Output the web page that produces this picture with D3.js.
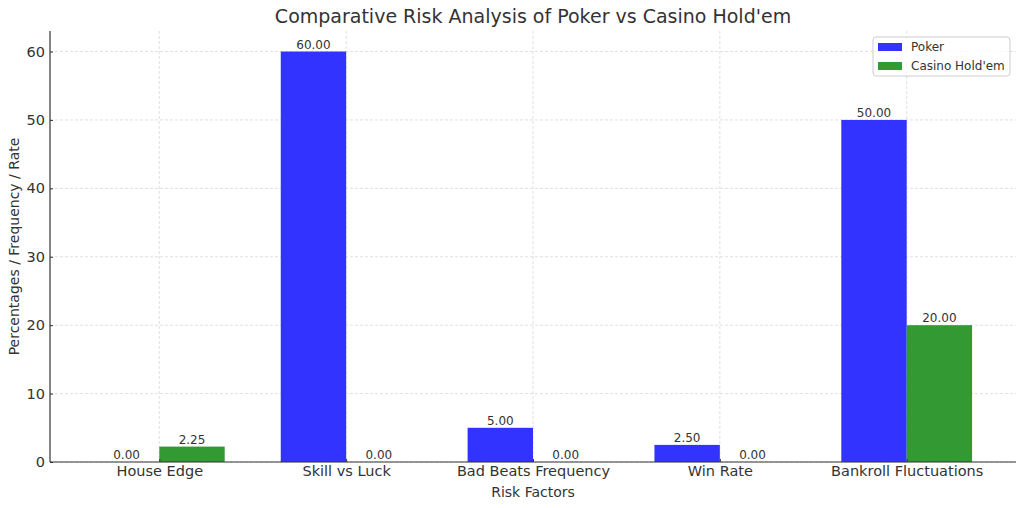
<!DOCTYPE html>
<html><head><meta charset="utf-8">
<script src="https://cdn.jsdelivr.net/npm/d3@7"></script>
<style>body{margin:0;background:#fff}svg{font-family:"DejaVu Sans",sans-serif}</style>
</head><body>
<svg id="c" width="1024" height="508"></svg>
<script>
const categories = ["House Edge","Skill vs Luck","Bad Beats Frequency","Win Rate","Bankroll Fluctuations"];
const pokerValues = [0, 60, 5, 2.5, 50];
const casinoValues = [2.25, 0, 0, 0, 20];
const seriesNames = ["Poker","Casino Hold'em"];
const yTicks = [0,10,20,30,40,50,60];
const colors = ["#3333ff","#339933"];

const svg = d3.select("#c");
const m = {l:50, r:8, t:31, b:46};
const W = 1024, H = 508;
const x = d3.scaleLinear().domain([-0.585, 4.585]).range([m.l, W - m.r]);
const y = d3.scaleLinear().domain([0, 63]).range([H - m.b, m.t]);
const bw = 0.35;
const txt = "#333";

// grid
const g = svg.append("g");
g.selectAll(".gy").data(yTicks).join("line")
  .attr("x1", m.l).attr("x2", W - m.r).attr("y1", d=>y(d)).attr("y2", d=>y(d))
  .attr("stroke","#d8d8d8").attr("stroke-dasharray","3,2").attr("stroke-width",0.8);
g.selectAll(".gx").data(categories).join("line")
  .attr("x1",(d,i)=>x(i)).attr("x2",(d,i)=>x(i)).attr("y1", m.t).attr("y2", H - m.b)
  .attr("stroke","#d8d8d8").attr("stroke-dasharray","3,2").attr("stroke-width",0.8);

const series = [pokerValues, casinoValues];
series.forEach((vals, s) => {
  const off = s === 0 ? -bw : 0;
  svg.append("g").selectAll("rect").data(vals).join("rect")
    .attr("x",(d,i)=>x(i+off)).attr("width", x(bw)-x(0))
    .attr("y", d=>y(d)).attr("height", d=>y(0)-y(d))
    .attr("fill", colors[s]);
  svg.append("g").selectAll("text").data(vals).join("text")
    .attr("x",(d,i)=>x(i+off+bw/2)).attr("y", d=>y(d)-3)
    .attr("text-anchor","middle").attr("font-size",12).attr("fill",txt)
    .text(d=>d.toFixed(2));
});

// axes (inward ticks)
const ya = svg.append("g").attr("transform",`translate(${m.l},0)`)
  .call(d3.axisLeft(y).tickValues(yTicks).tickSize(-3).tickPadding(5));
const xa = svg.append("g").attr("transform",`translate(0,${H-m.b})`)
  .call(d3.axisBottom(x).tickValues(d3.range(categories.length)).tickFormat(i=>categories[i]).tickSize(-3).tickPadding(4));
[ya, xa].forEach(a=>{
  a.selectAll("text").attr("font-size",14.5).attr("fill",txt).attr("font-family","DejaVu Sans");
  a.selectAll("line").attr("stroke","#333");
  a.select(".domain").attr("stroke","#333").attr("stroke-width",1.2);
});
ya.select(".domain").attr("d",`M0,${y(0)}V${m.t}`);
xa.select(".domain").attr("d",`M${m.l},0H${W-m.r}`);

// labels
svg.append("text").attr("x", 533).attr("y", 23).attr("text-anchor","middle")
  .attr("font-size",19).attr("fill",txt).text("Comparative Risk Analysis of Poker vs Casino Hold'em");
svg.append("text").attr("x", 533).attr("y", 497).attr("text-anchor","middle")
  .attr("font-size",14).attr("fill",txt).text("Risk Factors");
svg.append("text").attr("transform",`translate(19,${(m.t+H-m.b)/2}) rotate(-90)`)
  .attr("text-anchor","middle").attr("font-size",14).attr("fill",txt).text("Percentages / Frequency / Rate");

// legend
const lg = svg.append("g").attr("transform","translate(873,37)");
lg.append("rect").attr("width",137).attr("height",39).attr("rx",3)
  .attr("fill","#fff").attr("fill-opacity",0.8).attr("stroke","#ccc");
seriesNames.forEach((n,i)=>{
  lg.append("rect").attr("x",5).attr("y",6+i*19).attr("width",24).attr("height",8).attr("fill",colors[i]);
  lg.append("text").attr("x",38).attr("y",14+i*19).attr("font-size",12).attr("fill",txt).text(n);
});
</script>
</body></html>
